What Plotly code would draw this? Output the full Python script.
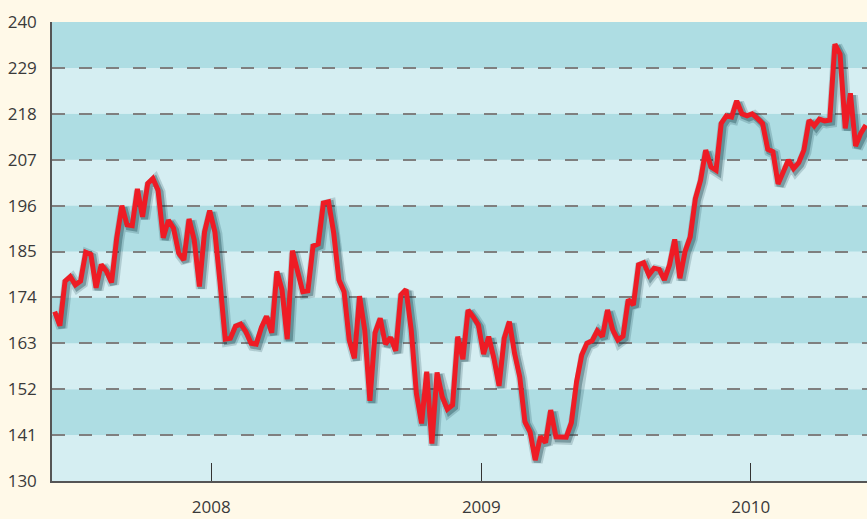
import pandas as pd
import plotly.graph_objects as go

# ---- data ----
start_date = "2007-06-03"
values = [
    170.6, 167.2, 177.9, 179.0, 177.0, 177.9, 184.8, 184.3, 176.3, 181.9,
    180.3, 177.6, 188.2, 196.0, 191.4, 191.2, 200.0, 193.3, 201.3, 202.5,
    199.7, 188.3, 192.5, 190.6, 184.6, 183.0, 192.8, 187.8, 176.6, 189.7,
    194.8, 189.7, 177.5, 164.0, 164.2, 167.1, 167.6, 165.8, 163.0, 162.8,
    166.8, 169.5, 165.5, 180.2, 175.8, 164.0, 185.2, 179.8, 175.4, 175.6,
    186.3, 186.8, 196.6, 196.9, 189.4, 178.2, 175.4, 163.8, 159.4, 174.3,
    166.2, 149.2, 165.5, 169.0, 162.8, 164.4, 161.2, 174.6, 175.9, 166.2,
    151.0, 143.8, 156.2, 139.0, 156.0, 150.2, 147.2, 148.2, 164.6, 159.2,
    171.0, 169.3, 167.4, 160.4, 164.6, 159.4, 152.8, 164.2, 168.2, 160.6,
    155.0, 144.2, 141.8, 135.0, 140.6, 139.2, 147.0, 140.6, 140.6, 140.5,
    144.0, 153.8, 160.2, 163.0, 163.6, 166.0, 164.6, 171.0, 166.2, 163.8,
    164.7, 173.5, 172.2, 181.8, 182.3, 179.4, 181.0, 180.7, 178.2, 181.8,
    187.9, 178.6, 185.0, 188.5, 197.7, 202.1, 209.3, 205.3, 204.5, 215.7,
    217.5, 217.2, 221.1, 218.0, 217.5, 218.0, 216.9, 215.7, 209.5, 208.9,
    201.2, 204.1, 206.9, 204.9, 206.3, 209.3, 216.5, 215.1, 216.7, 216.3,
    216.5, 234.7, 232.3, 214.5, 222.9, 210.3, 213.3, 215.3,
]
dates = pd.date_range(start_date, periods=len(values), freq="7D")
y_ticks = [130, 141, 152, 163, 174, 185, 196, 207, 218, 229, 240]
x_tick_dates = ["2008-01-01", "2009-01-01", "2010-01-01"]
x_tick_labels = ["2008", "2009", "2010"]
x_range = ["2007-05-30 08:00", "2010-06-07 12:00"]

# ---- style ----
paper = "#FFF9E8"
band_dark = "#AEDDE3"
band_light = "#D5EEF2"
red = "#EE1C25"

fig = go.Figure()

# shadow traces on slightly shifted overlay axes (render offset only)
day_shift = pd.Timedelta(hours=65)
x_range2 = [str(pd.Timestamp(x_range[0]) - day_shift), str(pd.Timestamp(x_range[1]) - day_shift)]
fig.add_trace(go.Scatter(x=dates, y=values, mode="lines", xaxis="x2", yaxis="y2",
                         line=dict(color="rgba(10,50,60,0.18)", width=11),
                         hoverinfo="skip", showlegend=False))
fig.add_trace(go.Scatter(x=dates, y=values, mode="lines", xaxis="x2", yaxis="y2",
                         line=dict(color="rgba(10,50,60,0.32)", width=7),
                         hoverinfo="skip", showlegend=False))
# main red line on an overlay with identical ranges so it sits above the shadow
fig.add_trace(go.Scatter(x=dates, y=values, mode="lines", xaxis="x3", yaxis="y3",
                         line=dict(color=red, width=5), showlegend=False))

# alternating bands between ticks
shapes = []
for k in range(len(y_ticks) - 1):
    shapes.append(dict(type="rect", xref="paper", yref="y", x0=0, x1=1,
                       y0=y_ticks[k], y1=y_ticks[k + 1], layer="below",
                       line=dict(width=0),
                       fillcolor=band_dark if k % 2 == 1 else band_light))

fig.update_layout(
    width=867, height=519,
    margin=dict(l=52, r=0, t=22, b=38),
    paper_bgcolor=paper, plot_bgcolor=band_light,
    shapes=shapes,
    font=dict(family="Open Sans", size=17, color="#3a3a3a"),
    xaxis=dict(type="date", range=x_range, tickvals=x_tick_dates, ticktext=x_tick_labels,
               ticks="inside", ticklen=18, tickwidth=1, tickcolor="#333333",
               showgrid=False, showline=True, linecolor="#555555", linewidth=1.5,
               ticklabelstandoff=10, zeroline=False),
    yaxis=dict(range=[130, 240], tickvals=y_ticks, ticks="", showline=True,
               linecolor="#555555", linewidth=1.5, showgrid=True, gridcolor="#7f7f7f",
               gridwidth=2, griddash="13px,14px", zeroline=False, ticklabelstandoff=10),
    xaxis2=dict(type="date", range=x_range2, overlaying="x", visible=False),
    yaxis2=dict(range=[130.5, 240.5], overlaying="y", visible=False),
    xaxis3=dict(type="date", range=x_range, overlaying="x", visible=False),
    yaxis3=dict(range=[130, 240], overlaying="y", visible=False),
)

fig.write_html("out.html", config={"displayModeBar": False},
               post_script="document.body.style.margin='0';document.body.style.background='%s';" % paper)
